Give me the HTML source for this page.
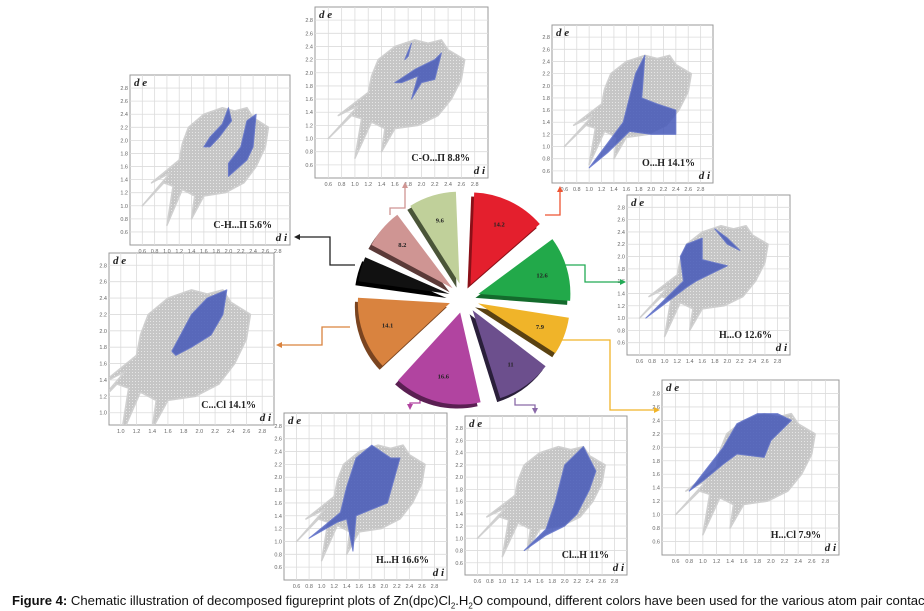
<!DOCTYPE html>
<html><head><meta charset="utf-8"><style>
html,body{margin:0;padding:0;background:#fff;}
#wrap{position:relative;width:924px;height:611px;overflow:hidden;font-family:"Liberation Sans",sans-serif;}
#cap{position:absolute;left:12px;top:593px;font-size:13.1px;color:#111;white-space:nowrap;}
</style></head><body>
<div id="wrap">
<svg id="svg" width="924" height="611" viewBox="0 0 924 611" xmlns="http://www.w3.org/2000/svg"></svg>
<div id="cap"><b>Figure 4:</b> Chematic illustration of decomposed figureprint plots of Zn(dpc)Cl<sub style="font-size:8px">2</sub>.H<sub style="font-size:8px">2</sub>O compound, different colors have been used for the various atom pair contacts</div>
</div>
<script>
const pieValues=[14.2,12.6,7.9,11,16.6,14.1,5.6,8.2,9.6];
const pieLabels=["14.2","12.6","7.9","11","16.6","14.1","","8.2","9.6"];
const pieColors=["#e41f2d","#22a94a","#f0b429","#6c4f8d","#b144a0","#d9833f","#111111","#cf9593","#c0d09a"];
const pieDark=["#8a1018","#136b2c","#5a4212","#2a1f3a","#5a1f52","#7a4420","#000","#5b3a38","#4a5538"];
const panelTitles=["O...H 14.1%","H...O  12.6%","H...Cl  7.9%","Cl...H  11%","H...H 16.6%","C...Cl 14.1%","C-H...Π 5.6%","C-O...Π  8.8%"];
const tickLabels=["0.6","0.8","1.0","1.2","1.4","1.6","1.8","2.0","2.2","2.4","2.6","2.8"];
const tickValues=[0.6,0.8,1.0,1.2,1.4,1.6,1.8,2.0,2.2,2.4,2.6,2.8];
const blobDi=[0.75,1.2,1.25,1.35,1.6,1.9,2.1,2.3,2.4,2.65,2.6,2.45,2.25,1.95,1.6,1.4,1.45,1.25,1.0,1.1,0.95,0.6,1.05];
const blobDe=[1.35,1.7,1.95,2.2,2.4,2.5,2.45,2.5,2.35,2.2,1.9,1.6,1.35,1.2,1.15,0.8,1.15,1.25,0.7,1.3,1.35,1.0,1.5];
const blueShapes=[
 [[[1.0,0.65],[1.55,1.4],[1.65,1.8],[1.75,2.2],[1.9,2.5],[1.85,1.8],[2.1,1.7],[2.4,1.6],[2.4,1.2],[2.0,1.2],[1.65,1.25],[1.3,0.9]]],
 [[[0.7,1.0],[1.3,1.6],[1.25,2.0],[1.35,2.2],[1.6,2.3],[1.6,1.95],[1.8,1.9],[2.0,1.85],[1.8,1.75],[1.5,1.6],[1.35,1.5]],[[1.8,2.45],[2.0,2.2],[2.2,2.1],[2.0,2.3]]],
 [[[0.8,1.35],[1.3,2.0],[1.5,2.35],[1.8,2.5],[2.1,2.5],[2.3,2.4],[2.0,2.1],[1.9,1.85],[1.5,1.9],[1.3,1.75],[1.0,1.5]]],
 [[[1.35,0.8],[1.7,1.15],[1.85,1.6],[2.0,2.2],[2.3,2.5],[2.5,2.1],[2.4,1.8],[2.2,1.4],[2.0,1.2],[1.7,1.05]]],
 [[[0.8,1.05],[1.3,1.45],[1.4,1.85],[1.55,2.3],[1.8,2.5],[2.1,2.3],[2.25,2.3],[2.05,1.6],[1.8,1.5],[1.55,1.4],[1.5,0.85],[1.4,1.35],[1.25,1.3]]],
 [[[1.65,1.75],[1.9,2.2],[2.1,2.4],[2.35,2.5],[2.3,2.2],[2.15,1.95],[1.9,1.8],[1.7,1.7]]],
 [[[1.6,1.9],[1.7,2.05],[1.9,2.25],[2.0,2.5],[2.05,2.3],[1.85,2.05],[1.7,1.9]],[[2.0,1.45],[2.3,1.7],[2.4,1.9],[2.45,2.4],[2.3,2.3],[2.2,1.9],[2.0,1.65]]],
 [[[1.6,1.85],[1.9,2.05],[2.2,2.2],[2.3,2.3],[2.2,1.9],[2.0,1.85],[1.85,1.6],[1.95,1.95],[1.7,1.85]],[[1.75,2.2],[1.85,2.45],[1.8,2.25]]]
];
const panelBoxes=[[552,25,713,183],[627,195,790,355],[662,380,839,555],[465,416,627,575],[284,413,447,580],[109,253,274,425],[130,75,290,245],[315,7,488,178]];
const panelDomains=[[0.4,3.0],[0.4,3.0],[0.4,3.0],[0.4,3.0],[0.4,3.0],[0.85,2.95],[0.4,3.0],[0.4,3.0]];
const NS="http://www.w3.org/2000/svg";
const svg=document.getElementById('svg');
function mk(tag,attrs,parent){const e=document.createElementNS(NS,tag);for(const k in attrs)e.setAttribute(k,attrs[k]);(parent||svg).appendChild(e);return e;}
const defs=mk('defs',{});
const pat=mk('pattern',{id:'dots',width:3,height:3,patternUnits:'userSpaceOnUse'},defs);
mk('rect',{width:3,height:3,fill:'#c6c6c6'},pat);
mk('rect',{x:0,y:0,width:1,height:1,fill:'#e6e6e6'},pat);

panelBoxes.forEach((b,i)=>{
  const [x0,y0,x1,y1]=b,[d0,d1]=panelDomains[i];
  const cp=mk('clipPath',{id:'clip'+i},defs);
  mk('rect',{x:x0,y:y0,width:x1-x0,height:y1-y0},cp);
  const g=mk('g',{});
  
  
  const sx=v=>x0+(v-d0)/(d1-d0)*(x1-x0), sy=v=>y1-(v-d0)/(d1-d0)*(y1-y0);
  const fr=mk('rect',{x:x0,y:y0,width:x1-x0,height:y1-y0,fill:'#fff',stroke:'#999','stroke-width':1},g);
  
  
  tickValues.forEach((v,k)=>{
    if(v<d0||v>d1)return;
    mk('line',{x1:sx(v),x2:sx(v),y1:y0,y2:y1,stroke:'#dcdcdc','stroke-width':0.8},g);
    mk('line',{x1:x0,x2:x1,y1:sy(v),y2:sy(v),stroke:'#dcdcdc','stroke-width':0.8},g);
    const tx=mk('text',{x:sx(v),y:y1+8,'font-size':5.5,fill:'#666','text-anchor':'middle'},g);tx.textContent=tickLabels[k];
    
    
    const ty=mk('text',{x:x0-2,y:sy(v)+2,'font-size':5.5,fill:'#666','text-anchor':'end'},g);ty.textContent=tickLabels[k];
    
    
  });
  const inner=mk('g',{'clip-path':'url(#clip'+i+')'},g);
  const pts=blobDi.map((d,k)=>sx(d)+','+sy(blobDe[k])).join(' ');
  const bl=mk('polygon',{points:pts,fill:'url(#dots)',stroke:'#d0d0d0','stroke-width':1.5,'stroke-linejoin':'round'},inner);
  
  
  blueShapes[i].forEach(sh=>{
    const p=mk('polygon',{points:sh.map(q=>sx(q[0])+','+sy(q[1])).join(' '),fill:'#4558b8',stroke:'#5a6cc8','stroke-width':1,'stroke-linejoin':'round',opacity:0.85},inner);
    
    
  });
  const de=mk('text',{x:x0+4,y:y0+11,'font-size':11,'font-style':'italic','font-weight':'bold',fill:'#222','font-family':'Liberation Serif,serif'},g);de.textContent='d e';
  
  
  const di=mk('text',{x:x1-3,y:y1-4,'font-size':11,'font-style':'italic','font-weight':'bold',fill:'#222','text-anchor':'end','font-family':'Liberation Serif,serif'},g);di.textContent='d i';
  
  
  const t=mk('text',{x:x1-18,y:y1-17,'font-size':10,'font-weight':'bold',fill:'#222','text-anchor':'end','font-family':'Liberation Serif,serif'},g);t.textContent=panelTitles[i];
  
  
});

const conns=[
 ['#e53',"M545,215 L560,215 L560,190",[560,186,'up']],
 ['#2a5',"M560,265 L585,265 L585,282 L622,282",[626,282,'right']],
 ['#f0b429',"M552,340 L610,340 L610,410 L655,410",[660,410,'right']],
 ['#8a6aa8',"M515,398 L515,405 L535,405 L535,410",[535,414,'down']],
 ['#b144a0',"M420,395 L420,403 L410,403 L410,406",[410,410,'down']],
 ['#d9833f',"M350,327 L322,327 L322,345 L280,345",[276,345,'left']],
 ['#222',"M355,265 L330,265 L330,237 L298,237",[294,237,'left']],
 ['#cf9593',"M390,215 L390,208 L405,208 L405,186",[405,182,'up']]
];
conns.forEach(c=>{
  const p=mk('path',{d:c[1],fill:'none',stroke:c[0],'stroke-width':1.3});
  
  
  const [ax,ay,dir]=c[2];let pts;
  if(dir==='up')pts=[[ax,ay],[ax-3,ay+6],[ax+3,ay+6]];
  if(dir==='down')pts=[[ax,ay],[ax-3,ay-6],[ax+3,ay-6]];
  if(dir==='right')pts=[[ax,ay],[ax-6,ay-3],[ax-6,ay+3]];
  if(dir==='left')pts=[[ax,ay],[ax+6,ay-3],[ax+6,ay+3]];
  const a=mk('polygon',{points:pts.map(q=>q.join(',')).join(' '),fill:c[0]});
  
  
});

const cx=464,cy=298,R=92,off=15;
const total=pieValues.reduce((a,b)=>a+b,0);
let ang=0;
pieValues.forEach((v,i)=>{
  const a0=ang+0.04,a1=ang+v/total*2*Math.PI-0.04;ang+=v/total*2*Math.PI;
  const am=(a0+a1)/2, ox=cx+off*Math.sin(am), oy=cy-off*Math.cos(am);
  const pt=(a,r,dx,dy)=>[(ox+dx+r*Math.sin(a)).toFixed(1),(oy+dy-r*Math.cos(a)).toFixed(1)];
  const large=(a1-a0)>Math.PI?1:0;
  const path=(dx,dy)=>{const p0=pt(a0,R,dx,dy),p1=pt(a1,R,dx,dy);return `M${ox+dx},${oy+dy} L${p0} A${R},${R} 0 ${large} 1 ${p1} Z`;};
  const s=mk('path',{d:path(-3,4),fill:pieDark[i]});
  
  
  const f=mk('path',{d:path(0,0),fill:pieColors[i]});
  
  
  if(pieLabels[i]){
    const lp=pt(am,R*0.72,0,0);
    const t=mk('text',{x:lp[0],y:+lp[1]+2,'font-size':6.5,'text-anchor':'middle',fill:'#222','font-family':'Liberation Serif,serif','font-weight':'bold'});
    t.textContent=pieLabels[i];
    
    
  }
});
</script>
</body></html>
